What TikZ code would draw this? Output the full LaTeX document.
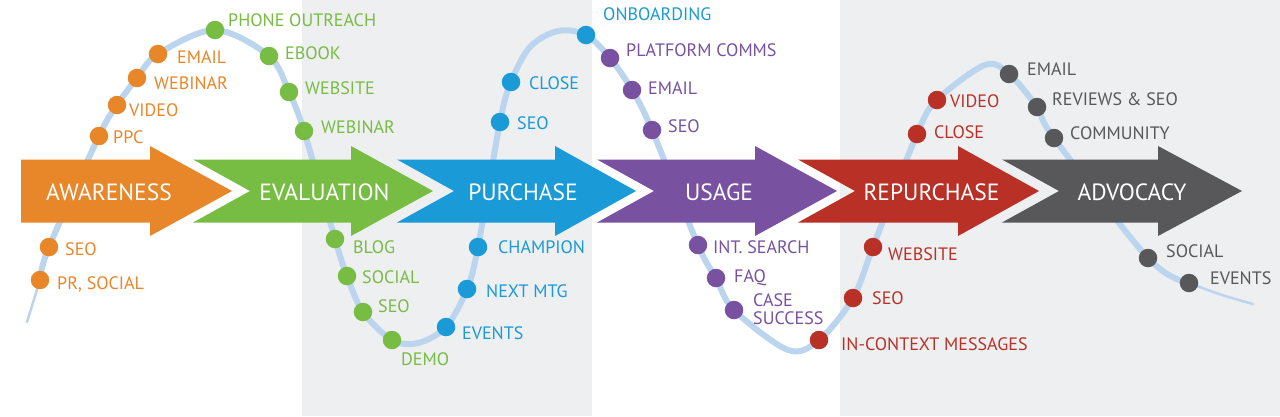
\documentclass[tikz,border=0pt]{standalone}
\usepackage{fontspec}
\setmainfont{PT Sans}
\definecolor{cOr}{HTML}{E8862A}
\definecolor{cGr}{HTML}{77BC43}
\definecolor{cBl}{HTML}{1A9AD6}
\definecolor{cPu}{HTML}{7851A0}
\definecolor{cRd}{HTML}{B93126}
\definecolor{cGy}{HTML}{58585A}
\definecolor{bgGray}{HTML}{EEEFF1}
\definecolor{waveBlue}{HTML}{BCD5EE}
\begin{document}
\begin{tikzpicture}[x=1pt,y=-1pt,
  stagetext/.style={text=white, font=\fontsize{23.5}{23.5}\selectfont, inner sep=0, anchor=base},
  tpdot/.style={circle, minimum size=18.5pt, inner sep=0, draw=none, fill=#1},
  lbl/.style={anchor=base west, inner sep=0, text=#1, font=\fontsize{18}{18}\selectfont},
  wave/.style={draw=waveBlue, line width=6pt, line cap=round, line join=round},
  thinwave/.style={draw=waveBlue, line width=2.5pt, line cap=round}
]
\useasboundingbox (0,0) rectangle (1280,416);
\fill[white] (0,0) rectangle (1280,416);
\fill[bgGray] (302,0) rectangle (592,416);
\fill[bgGray] (840,0) rectangle (1280,416);

% curve points
\coordinate (c0) at (27,322);
\coordinate (o1) at (40,280);
\coordinate (o2) at (49,247);
\coordinate (o3) at (99,136);
\coordinate (o4) at (117,105);
\coordinate (o5) at (137,78);
\coordinate (o6) at (158,54);
\coordinate (g1) at (215,30);
\coordinate (g2) at (269,56);
\coordinate (g3) at (289,92);
\coordinate (g4) at (304,131);
\coordinate (g5) at (335,239);
\coordinate (g6) at (347,276);
\coordinate (g7) at (363,312);
\coordinate (g8) at (392,340);
\coordinate (m1) at (418,343);
\coordinate (b1) at (446,327);
\coordinate (b2) at (467,289);
\coordinate (b3) at (478,247);
\coordinate (b4) at (500,122);
\coordinate (b5) at (511,82);
\coordinate (m2) at (530,47);
\coordinate (m3) at (558,31);
\coordinate (b6) at (586,35);
\coordinate (p1) at (610,58);
\coordinate (p2) at (632,90);
\coordinate (p3) at (652,130);
\coordinate (p4) at (698,245);
\coordinate (p5) at (716,278);
\coordinate (p6) at (734,310);
\coordinate (m4) at (788,350);
\coordinate (r1) at (819,340);
\coordinate (r2) at (853,298);
\coordinate (r3) at (873,247);
\coordinate (r4) at (917,134);
\coordinate (r5) at (937,100);
\coordinate (m5) at (985,65);
\coordinate (k1) at (1009,74);
\coordinate (k2) at (1037,107);
\coordinate (k3) at (1054,138);
\coordinate (k4) at (1148,258);
\coordinate (k5) at (1189,283);
\coordinate (m6) at (1222,295);
\coordinate (c1) at (1253,304);

\draw[thinwave] (c0) -- (o1);
\draw[wave] plot[smooth, tension=0.55] coordinates {(o1) (o2) (o3) (o4) (o5) (o6) (g1) (g2) (g3) (g4) (g5) (g6) (g7) (g8) (m1) (b1) (b2) (b3) (b4) (b5) (m2) (m3) (b6) (p1) (p2) (p3) (p4) (p5) (p6) (m4) (r1) (r2) (r3) (r4) (r5) (m5) (k1) (k2) (k3) (k4) (k5)};
\draw[thinwave] plot[smooth] coordinates {(k5) (m6) (c1)};

% stage arrows
\fill[cOr] (21,159.5) -- (150,159.5) -- (150,146) -- (232,191) -- (150,236) -- (150,222.5) -- (21,222.5) -- cycle;
\fill[cGr] (193,159.5) -- (351,159.5) -- (351,146) -- (433,191) -- (351,236) -- (351,222.5) -- (193,222.5) -- (250,191) -- cycle;
\fill[cBl] (397,159.5) -- (555,159.5) -- (555,146) -- (636,191) -- (555,236) -- (555,222.5) -- (397,222.5) -- (454,191) -- cycle;
\fill[cPu] (597,159.5) -- (755,159.5) -- (755,146) -- (837,191) -- (755,236) -- (755,222.5) -- (597,222.5) -- (654,191) -- cycle;
\fill[cRd] (798,159.5) -- (958,159.5) -- (958,146) -- (1039,191) -- (958,236) -- (958,222.5) -- (798,222.5) -- (855,191) -- cycle;
\fill[cGy] (1002,159.5) -- (1158,159.5) -- (1158,146) -- (1242,191) -- (1158,236) -- (1158,222.5) -- (1002,222.5) -- (1059,191) -- cycle;

\node[stagetext] (sAw) at (109,200) {AWARENESS};
\node[stagetext] (sEv) at (324.5,200) {EVALUATION};
\node[stagetext] (sPu) at (523,200) {PURCHASE};
\node[stagetext] (sUs) at (719,200) {USAGE};
\node[stagetext] (sRe) at (931.5,200) {REPURCHASE};
\node[stagetext] (sAd) at (1132,200) {ADVOCACY};

% dots
\foreach \n in {o1,o2,o3,o4,o5,o6} \node[tpdot=cOr] (d\n) at (\n) {};
\foreach \n in {g1,g2,g3,g4,g5,g6,g7,g8} \node[tpdot=cGr] (d\n) at (\n) {};
\foreach \n in {b1,b2,b3,b4,b5,b6} \node[tpdot=cBl] (d\n) at (\n) {};
\foreach \n in {p1,p2,p3,p4,p5,p6} \node[tpdot=cPu] (d\n) at (\n) {};
\foreach \n in {r1,r2,r3,r4,r5} \node[tpdot=cRd] (d\n) at (\n) {};
\foreach \n in {k1,k2,k3,k4,k5} \node[tpdot=cGy] (d\n) at (\n) {};

% labels
\node[lbl=cOr] (lo6) at (177,63.3) {EMAIL};
\node[lbl=cOr] (lo5) at (154,89.3) {WEBINAR};
\node[lbl=cOr] (lo4) at (129,116.3) {VIDEO};
\node[lbl=cOr] (lo3) at (113,143.3) {PPC};
\node[lbl=cOr] (lo2) at (65,255.3) {SEO};
\node[lbl=cOr] (lo1) at (57,289.3) {PR, SOCIAL};

\node[lbl=cGr] (lg1) at (228,26.3) {PHONE OUTREACH};
\node[lbl=cGr] (lg2) at (285,59.3) {EBOOK};
\node[lbl=cGr] (lg3) at (305,94.3) {WEBSITE};
\node[lbl=cGr] (lg4) at (321,133.3) {WEBINAR};
\node[lbl=cGr] (lg5) at (353,253.3) {BLOG};
\node[lbl=cGr] (lg6) at (362,283.3) {SOCIAL};
\node[lbl=cGr] (lg7) at (378,312.3) {SEO};
\node[lbl=cGr] (lg8) at (401,365.3) {DEMO};

\node[lbl=cBl] (lb1) at (462,339.3) {EVENTS};
\node[lbl=cBl] (lb2) at (486,297.3) {NEXT MTG};
\node[lbl=cBl] (lb3) at (498,253.3) {CHAMPION};
\node[lbl=cBl] (lb4) at (517,129.3) {SEO};
\node[lbl=cBl] (lb5) at (529,89.3) {CLOSE};
\node[lbl=cBl] (lb6) at (603,20.3) {ONBOARDING};

\node[lbl=cPu] (lp1) at (626,56.3) {PLATFORM COMMS};
\node[lbl=cPu] (lp2) at (648,94.3) {EMAIL};
\node[lbl=cPu] (lp3) at (668,132.3) {SEO};
\node[lbl=cPu] (lp4) at (713,253.3) {INT. SEARCH};
\node[lbl=cPu] (lp5) at (734,282.3) {FAQ};
\node[lbl=cPu, anchor=north west, align=left] (lp6) at (753,293.7) {CASE\\SUCCESS};

\node[lbl=cRd] (lr1) at (841,350.3) {IN-CONTEXT MESSAGES};
\node[lbl=cRd] (lr2) at (872,304.3) {SEO};
\node[lbl=cRd] (lr3) at (888,260.3) {WEBSITE};
\node[lbl=cRd] (lr4) at (934,138.3) {CLOSE};
\node[lbl=cRd] (lr5) at (950,107.3) {VIDEO};

\node[lbl=cGy] (lk1) at (1027,75.3) {EMAIL};
\node[lbl=cGy] (lk2) at (1052,105.3) {REVIEWS \& SEO};
\node[lbl=cGy] (lk3) at (1070,139.3) {COMMUNITY};
\node[lbl=cGy] (lk4) at (1166,257.3) {SOCIAL};
\node[lbl=cGy] (lk5) at (1210,284.3) {EVENTS};
\end{tikzpicture}
\end{document}
